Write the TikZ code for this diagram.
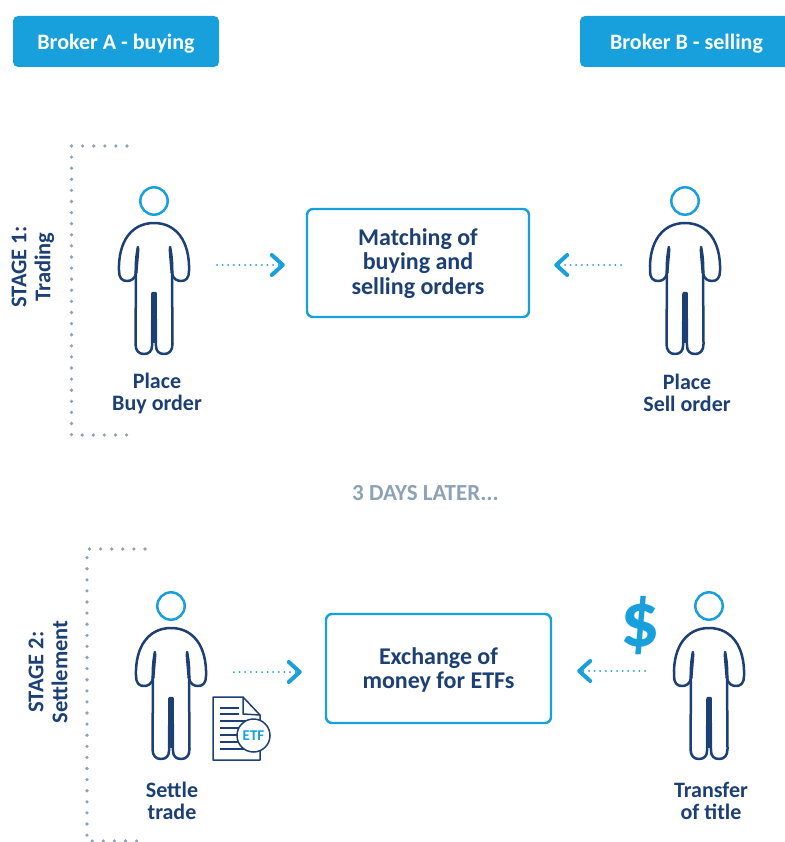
\documentclass[tikz,border=0pt]{standalone}
\usepackage{fontspec}
\setmainfont{Carlito}
\usetikzlibrary{arrows.meta}
\definecolor{navy}{HTML}{1C3F74}
\definecolor{sky}{HTML}{17A0DB}
\definecolor{greyblue}{HTML}{8DA2B6}
\tikzset{
  bighead/.style={draw=sky,line width=2.5pt,fill=white},
  bodyline/.style={draw=navy,line width=2.5pt,line join=round,line cap=round},
  person/.pic={
    \path[bighead] (0,0) circle (13.7);
    \path[bodyline] (-16,46) .. controls (-18,55) and (-18.5,65) .. (-18,72)
      .. controls (-19,78) and (-23,80) .. (-27,80)
      .. controls (-32,80) and (-35,77) .. (-35,70)
      .. controls (-36,40) and (-22,22) .. (0,22)
      .. controls (22,22) and (36,40) .. (35,70)
      .. controls (35,77) and (32,80) .. (27,80)
      .. controls (23,80) and (19,78) .. (18,72)
      .. controls (18.5,65) and (18,55) .. (16,46);
    \path[fill=navy] (-17,45) -- (-19.5,72) -- (-16.5,72) -- (-14.5,48) -- cycle;
    \path[fill=navy] (17,45) -- (19.5,72) -- (16.5,72) -- (14.5,48) -- cycle;
    \path[bodyline] (-18,70) -- (-18.5,143)
      .. controls (-18.5,150) and (-15,153) .. (-10,153)
      .. controls (-5,153) and (-2,150) .. (-2,145)
      -- (-1.5,92) -- (1.5,92) -- (2,145)
      .. controls (2,150) and (5,153) .. (10,153)
      .. controls (15,153) and (18.5,150) .. (18.5,143)
      -- (18,70);
    \path[fill=navy] (-2,92) rectangle (2,142);
  },
  brokerbox/.style={fill=sky,rounded corners=5pt,minimum height=51pt,anchor=center,inner sep=0pt},
  brokertext/.style={text=white,font=\bfseries\fontsize{22}{26}\selectfont,inner sep=0pt,anchor=center},
  procbox/.style={draw=sky,line width=2.4pt,rounded corners=6pt,fill=white,inner sep=0pt,anchor=center},
  proctext/.style={text=navy,align=center,font=\bfseries\fontsize{24}{24.5}\selectfont,inner sep=0pt,anchor=center},
  caption/.style={text=navy,align=center,font=\bfseries\fontsize{22}{22}\selectfont,inner sep=0pt,anchor=center},
  stagelabel/.style={text=navy,align=center,font=\bfseries\fontsize{22.5}{24}\selectfont,inner sep=0pt,anchor=center,rotate=90},
  flow/.style={draw=sky,line width=2pt,line cap=round,dash pattern=on 0pt off 5.6pt,-{Straight Barb[length=11pt,width=20pt,line width=4pt,line cap=round,round]}},
  bracket/.style={draw=greyblue,line width=3.6pt,line cap=round,dash pattern=on 0pt off 11.1pt},
}
\begin{document}
\begin{tikzpicture}[x=1pt,y=-1pt]
\useasboundingbox (0,0) rectangle (784,842);
\node[brokerbox,minimum width=206pt] (brokerA) at (116,41.5) {};
\node[brokerbox,minimum width=212pt] (brokerB) at (686,41.5) {};
\node[brokertext] (brokerAt) at (116,43.5) {Broker A - buying};
\node[brokertext] (brokerBt) at (686.5,43.5) {Broker B - selling};

\draw[bracket] (127,146) -- (71.5,146) -- (71.5,435) -- (127,435);
\draw[bracket] (145,549) -- (87,549) -- (87,841) -- (145,841);
\node[stagelabel] (stageA) at (33,267) {STAGE 1:\\Trading};
\node[stagelabel] (stageB) at (48,672) {STAGE 2:\\Settlement};

\pic at (154,201) {person};
\pic at (685,201) {person};
\pic at (171,606) {person};
\pic at (709,606) {person};

\node[caption] (capA) at (157,394) {Place\\Buy order};
\node[caption] (capB) at (687,393) {Place\\Sell order};
\node[caption] (capC) at (172,800.5) {Settle\\trade};
\node[caption] (capD) at (711,800.5) {Transfer\\of title};

\node[procbox,minimum width=222pt,minimum height=108pt] (match) at (418,263) {};
\node[proctext] (matchT) at (418,263.5) {Matching of\\buying and\\selling orders};
\node[procbox,minimum width=225pt,minimum height=109pt] (exch) at (438.5,668.5) {};
\node[proctext] (exchT) at (438.5,670) {Exchange of\\money for ETFs};

\coordinate (a1) at (217,265);
\coordinate (a2) at (621,265);
\coordinate (a3) at (234,672);
\coordinate (a4) at (645,671);
\draw[flow] (a1) -- ([xshift=-21pt]match.west |- a1);
\draw[flow] (a2) -- ([xshift=24pt]match.east |- a2);
\draw[flow] (a3) -- ([xshift=-23pt]exch.west |- a3);
\draw[flow] (a4) -- ([xshift=25pt]exch.east |- a4);

\node[text=greyblue,font=\bfseries\fontsize{23}{26}\selectfont,inner sep=0pt] (later) at (425.5,493.5) {3 DAYS LATER...};
\node[text=sky,font=\fontsize{78}{78}\selectfont\bfseries,inner sep=0pt] (dollar) at (640,626) {\$};

\draw[navy,line width=1.5pt,line join=round,fill=white] (213,697) -- (243,697) -- (260,715) -- (260,760) -- (213,760) -- cycle;
\draw[navy,line width=1.5pt,line join=round] (243,697) -- (243,714) -- (260,715);
\foreach \yy/\xe in {708/239,714/239,721/258,728/258,735/258,742/258,749/258}
  \draw[navy,line width=1.4pt] (219.5,\yy) -- (\xe,\yy);
\node[circle,draw=navy,line width=1.5pt,fill=white,minimum size=33pt,inner sep=0pt,text=sky,font=\bfseries\fontsize{15}{15}\selectfont] (etf) at (253.5,735.5) {ETF};
\end{tikzpicture}
\end{document}
